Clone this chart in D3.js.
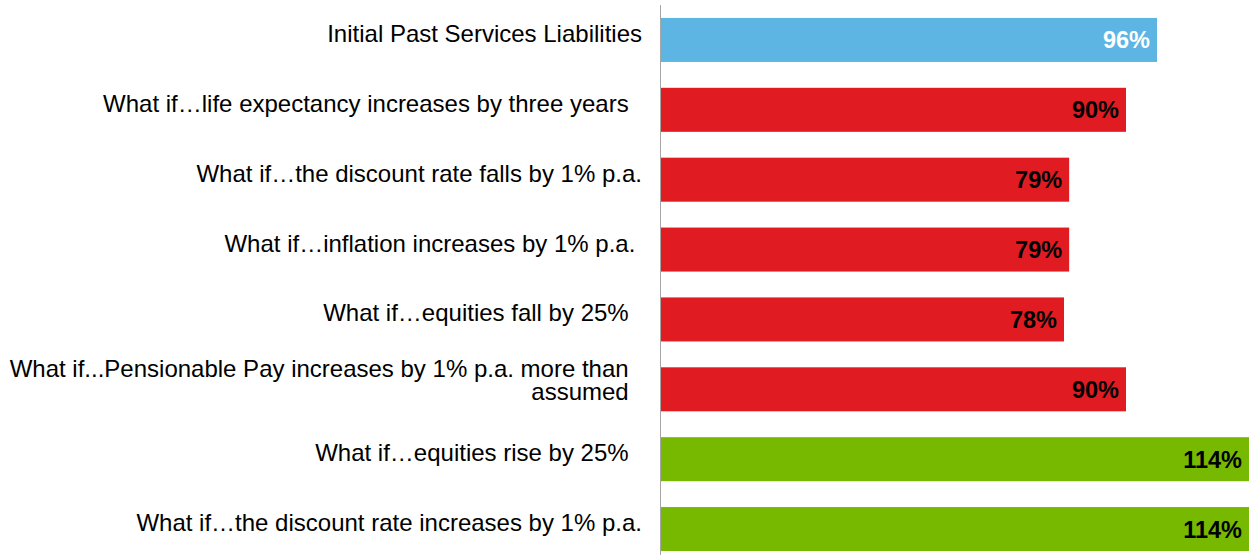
<!DOCTYPE html>
<html>
<head>
<meta charset="utf-8">
<script src="https://cdn.jsdelivr.net/npm/d3@7"></script>
<style>
  html, body { margin: 0; padding: 0; background: #ffffff; }
  svg { display: block; }
  .cat { font-family: "Liberation Sans", Arial, sans-serif; font-size: 24px; fill: #000; white-space: pre; }
  .val { font-family: "Liberation Sans", Arial, sans-serif; font-size: 23.5px; font-weight: bold; }
</style>
</head>
<body>
<svg id="chart" width="1249" height="555"></svg>
<script>
// Funding level under each scenario (%)
const categories = [
  "Initial Past Services Liabilities",
  "What if…life expectancy increases by three years  ",
  "What if…the discount rate falls by 1% p.a.",
  "What if…inflation increases by 1% p.a. ",
  "What if…equities fall by 25%  ",
  "What if...Pensionable Pay increases by 1% p.a. more than  \nassumed  ",
  "What if…equities rise by 25%  ",
  "What if…the discount rate increases by 1% p.a."
];
const values = [96, 90, 79, 79, 78, 90, 114, 114];
const groups = ["base", "down", "down", "down", "down", "down", "up", "up"];
const groupNames = ["base", "down", "up"];
const groupColors = ["#5db5e3", "#e01b22", "#77b800"];
const labelColors = ["#ffffff", "#000000", "#000000"];

const rows = categories.map((c, i) => ({ cat: c, value: values[i], group: groups[i] }));

const svg = d3.select("#chart");
const W = 1249, H = 555;
const x0 = 661;

const x = d3.scaleLinear().domain([0, 114]).range([x0, 1250]);
const y = d3.scaleBand()
  .domain(categories)
  .range([5, 564])
  .paddingInner(0.37)
  .paddingOuter(0.185);
const fill = d3.scaleOrdinal().domain(groupNames).range(groupColors);
const ink = d3.scaleOrdinal().domain(groupNames).range(labelColors);

// bars
svg.append("g")
  .selectAll("rect")
  .data(rows)
  .join("rect")
  .attr("x", x0)
  .attr("y", d => y(d.cat))
  .attr("width", d => x(d.value) - x0)
  .attr("height", y.bandwidth())
  .attr("fill", d => fill(d.group));

// vertical category axis line
svg.append("line")
  .attr("x1", x0 - 0.5).attr("x2", x0 - 0.5)
  .attr("y1", 5).attr("y2", H)
  .attr("stroke", "#a6a6a6")
  .attr("stroke-width", 1);

// category labels, right aligned left of the axis
const cats = svg.append("g")
  .selectAll("text")
  .data(rows)
  .join("text")
  .attr("class", "cat")
  .attr("text-anchor", "end");

cats.each(function (d) {
  const lines = d.cat.split("\n");
  const cy = y(d.cat) + y.bandwidth() / 2;
  const lh = 23;
  const first = lines.length === 1 ? cy + 2 : cy - 12;
  d3.select(this).selectAll("tspan")
    .data(lines)
    .join("tspan")
    .attr("x", 642)
    .attr("y", (t, i) => first + i * lh)
    .text(t => t);
});

// value labels inside bar ends
svg.append("g")
  .selectAll("text")
  .data(rows)
  .join("text")
  .attr("class", "val")
  .attr("text-anchor", "end")
  .attr("x", d => Math.min(x(d.value), W) - 7)
  .attr("y", d => y(d.cat) + y.bandwidth() / 2 + 8.5)
  .attr("fill", d => ink(d.group))
  .text(d => d3.format("d")(d.value) + "%");
</script>
</body>
</html>
